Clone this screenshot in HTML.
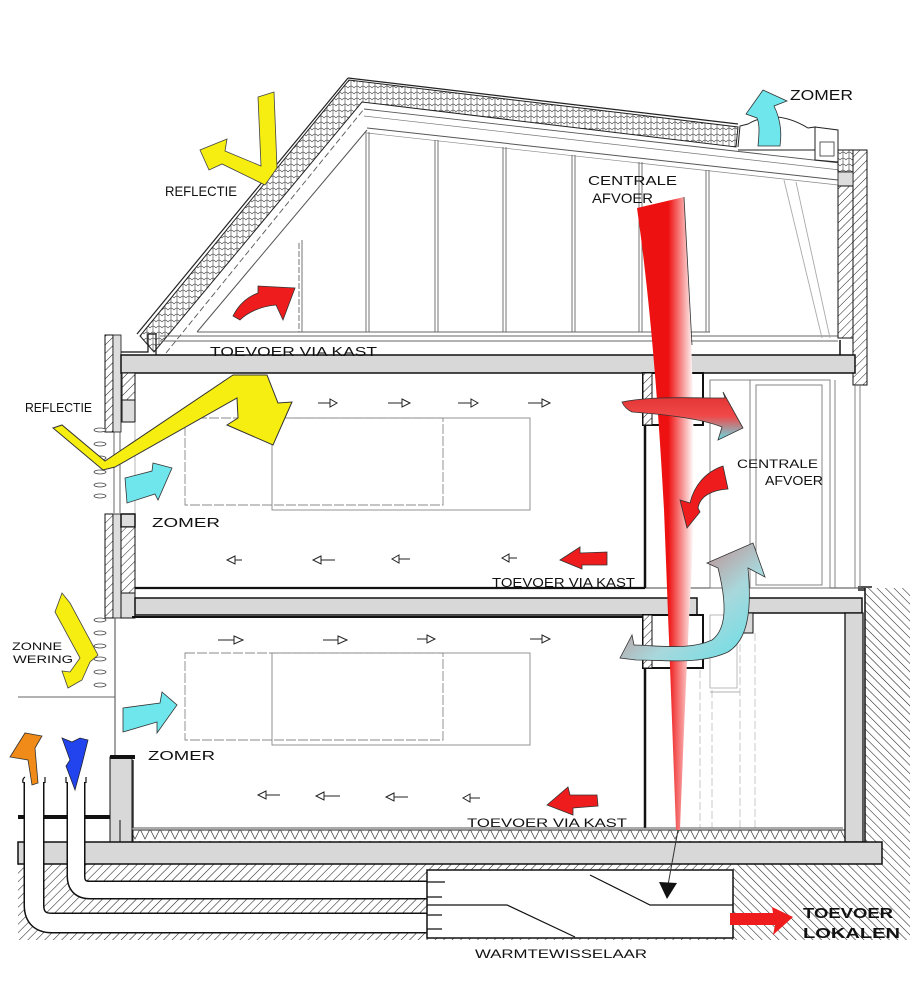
<!DOCTYPE html>
<html><head><meta charset="utf-8"><style>
html,body{margin:0;padding:0;background:#fff;}
svg{display:block;}
text{font-family:"Liberation Sans",sans-serif;fill:#111;}
</style></head><body>
<svg width="921" height="1000" viewBox="0 0 921 1000" xmlns="http://www.w3.org/2000/svg">
<defs>
<pattern id="h" width="6" height="6" patternUnits="userSpaceOnUse" patternTransform="rotate(45)"><rect width="6" height="6" fill="#fff"/><line x1="0" y1="0" x2="0" y2="6" stroke="#222" stroke-width="1"/></pattern>
<pattern id="soil" width="6" height="6" patternUnits="userSpaceOnUse" patternTransform="rotate(-45)"><rect width="6" height="6" fill="#fff"/><line x1="0" y1="0" x2="0" y2="6" stroke="#222" stroke-width="1.1"/></pattern>
<pattern id="soil2" width="6" height="6" patternUnits="userSpaceOnUse" patternTransform="rotate(45)"><rect width="6" height="6" fill="#fff"/><line x1="0" y1="0" x2="0" y2="6" stroke="#222" stroke-width="1.1"/></pattern>
<pattern id="tile" width="6" height="6" patternUnits="userSpaceOnUse"><rect width="6" height="6" fill="#fff"/><path d="M0,4 Q3,0 6,4 M3,0 L3,6" fill="none" stroke="#555" stroke-width="0.7"/></pattern>
<pattern id="zig" width="10" height="12" patternUnits="userSpaceOnUse"><rect width="10" height="12" fill="#fff"/><path d="M0,1 L5,11 L10,1" fill="none" stroke="#333" stroke-width="0.7"/></pattern>
<linearGradient id="beam" x1="0" y1="0" x2="1" y2="0"><stop offset="0" stop-color="#ee1111"/><stop offset="0.55" stop-color="#ee1111"/><stop offset="1" stop-color="#ffffff"/></linearGradient>
<linearGradient id="rc" x1="0" y1="0" x2="0" y2="1"><stop offset="0" stop-color="#e03030"/><stop offset="0.5" stop-color="#f04848"/><stop offset="1" stop-color="#66dde6"/></linearGradient>
<linearGradient id="rc2" x1="0" y1="0" x2="1" y2="1"><stop offset="0" stop-color="#d84848"/><stop offset="0.6" stop-color="#a8d8dc"/><stop offset="1" stop-color="#5ee0e8"/></linearGradient>
</defs>
<rect width="921" height="1000" fill="#fff"/>

<!-- ROOF -->
<polygon points="140,336 349,80 738,127 736,147 362,102 154,352" fill="url(#tile)" stroke="#222" stroke-width="1"/>
<line x1="137" y1="334" x2="348" y2="78" stroke="#222" stroke-width="1.2"/>
<line x1="348" y1="78" x2="738" y2="124" stroke="#222" stroke-width="1.2"/>
<line x1="166" y1="353" x2="364" y2="109" stroke="#555" stroke-width="0.9" stroke-dasharray="6,3"/>
<line x1="364" y1="109" x2="840" y2="163" stroke="#555" stroke-width="0.9"/>
<line x1="364" y1="116" x2="840" y2="170" stroke="#777" stroke-width="0.7"/>
<!-- skylight -->
<path d="M738,147 L740,126 L748,124 Q775,108 808,128 L815,127 L815,150 L738,150" fill="#fff" stroke="#222" stroke-width="1"/>
<path d="M815,127 L838,130 L838,162 L815,160 Z" fill="#fff" stroke="#222" stroke-width="1"/>
<rect x="820" y="142" width="14" height="14" fill="#fff" stroke="#333" stroke-width="0.8"/>
<!-- attic inner -->
<line x1="197" y1="332" x2="367" y2="130" stroke="#555" stroke-width="1"/>
<line x1="367" y1="128" x2="838" y2="180" stroke="#555" stroke-width="1"/>
<line x1="367" y1="133" x2="838" y2="185" stroke="#888" stroke-width="0.7"/>
<g stroke="#666" stroke-width="0.9">
<line x1="299" y1="243" x2="299" y2="332" stroke-dasharray="6,2"/><line x1="302" y1="240" x2="302" y2="332"/>
<line x1="366" y1="132" x2="366" y2="332"/><line x1="369" y1="132" x2="369" y2="332"/>
<line x1="435" y1="140" x2="435" y2="332"/><line x1="438" y1="140" x2="438" y2="332"/>
<line x1="503" y1="147" x2="503" y2="332"/><line x1="506" y1="147" x2="506" y2="332"/>
<line x1="572" y1="155" x2="572" y2="332"/><line x1="575" y1="155" x2="575" y2="332"/>
<line x1="639" y1="162" x2="639" y2="332"/><line x1="642" y1="162" x2="642" y2="332"/>
<line x1="706" y1="170" x2="706" y2="332"/><line x1="709" y1="170" x2="709" y2="332"/>
<line x1="197" y1="332" x2="710" y2="332"/>
<line x1="160" y1="336" x2="838" y2="336"/>
<line x1="160" y1="341" x2="838" y2="341"/>
<line x1="784" y1="180" x2="822" y2="338" stroke="#aaa"/>
<line x1="796" y1="182" x2="830" y2="338" stroke="#aaa"/>
</g>
<!-- left eave -->
<rect x="105" y="335" width="8" height="97" fill="url(#h)" stroke="#111" stroke-width="1"/>
<rect x="113" y="335" width="8" height="97" fill="#ddd" stroke="#111" stroke-width="0.8"/>
<path d="M121,352 L148,352 L148,334 L156,334 L156,355" fill="none" stroke="#111" stroke-width="1.2"/>
<!-- right parapet & wall -->
<rect x="853" y="150" width="14" height="235" fill="url(#h)" stroke="#111" stroke-width="1"/>
<rect x="838" y="150" width="15" height="22" fill="url(#tile)" stroke="#111" stroke-width="1"/>
<rect x="838" y="172" width="15" height="14" fill="#ddd" stroke="#111" stroke-width="0.8"/>
<rect x="838" y="186" width="15" height="152" fill="url(#h)" stroke="#111" stroke-width="1"/>
<line x1="840" y1="340" x2="840" y2="357" stroke="#111" stroke-width="1.5"/>

<!-- ATTIC SLAB -->
<rect x="121" y="355" width="734" height="18" fill="#d8d8d8" stroke="#111" stroke-width="1.5"/>
<!-- left upper wall -->
<rect x="122" y="373" width="13" height="27" fill="url(#h)" stroke="#111" stroke-width="1"/>
<rect x="122" y="400" width="13" height="22" fill="#ddd" stroke="#111" stroke-width="1"/>
<line x1="114" y1="432" x2="114" y2="513" stroke="#444" stroke-width="0.8"/>
<line x1="120" y1="432" x2="120" y2="513" stroke="#444" stroke-width="0.8"/>
<line x1="135" y1="422" x2="135" y2="513" stroke="#999" stroke-width="0.7"/>
<rect x="105" y="514" width="8" height="104" fill="url(#h)" stroke="#111" stroke-width="1"/>
<rect x="113" y="514" width="8" height="104" fill="#ddd" stroke="#111" stroke-width="0.8"/>
<rect x="121" y="514" width="14" height="13" fill="#ddd" stroke="#111" stroke-width="1.5"/>
<rect x="121" y="527" width="14" height="66" fill="url(#h)" stroke="#111" stroke-width="1"/>
<rect x="121" y="593" width="14" height="25" fill="#ddd" stroke="#111" stroke-width="1"/>
<!-- louvres -->
<g fill="#fff" stroke="#444" stroke-width="0.8">
<ellipse cx="100" cy="430" rx="6" ry="2"/><ellipse cx="100" cy="444" rx="6" ry="2"/><ellipse cx="100" cy="458" rx="6" ry="2"/><ellipse cx="100" cy="472" rx="6" ry="2"/><ellipse cx="100" cy="485" rx="6" ry="2"/><ellipse cx="100" cy="496" rx="6" ry="2"/>
<ellipse cx="100" cy="620" rx="6" ry="2"/><ellipse cx="100" cy="633" rx="6" ry="2"/><ellipse cx="100" cy="646" rx="6" ry="2"/><ellipse cx="100" cy="659" rx="6" ry="2"/><ellipse cx="100" cy="672" rx="6" ry="2"/><ellipse cx="100" cy="685" rx="6" ry="2"/>
</g>

<!-- FIRST FLOOR SLAB -->
<line x1="135" y1="588" x2="645" y2="588" stroke="#111" stroke-width="2.2"/>
<line x1="645" y1="588" x2="862" y2="588" stroke="#444" stroke-width="1"/>
<rect x="135" y="598" width="562" height="17" fill="#d8d8d8" stroke="#111" stroke-width="1.5"/>
<rect x="688" y="615" width="9" height="18" fill="#d8d8d8" stroke="#111" stroke-width="1"/>
<rect x="740" y="598" width="122" height="15" fill="#d8d8d8" stroke="#111" stroke-width="1.5"/>
<rect x="740" y="613" width="13" height="20" fill="#d8d8d8" stroke="#111" stroke-width="1"/>
<rect x="858" y="586" width="14" height="5" fill="#555"/>
<line x1="132" y1="617" x2="645" y2="617" stroke="#111" stroke-width="2"/>

<!-- upper right windows -->
<g stroke="#777" stroke-width="0.9" fill="none">
<rect x="710" y="380" width="120" height="208"/>
<line x1="750" y1="380" x2="750" y2="588"/>
<rect x="756" y="385" width="66" height="200"/>
<line x1="855" y1="385" x2="855" y2="588"/>
<line x1="860" y1="385" x2="860" y2="588"/>
<line x1="835" y1="380" x2="835" y2="588"/>
</g>

<!-- SHAFT -->
<rect x="643" y="373" width="60" height="52" fill="#fff" stroke="#111" stroke-width="2"/>
<rect x="643" y="373" width="9" height="52" fill="url(#h)" stroke="#111" stroke-width="1"/>
<line x1="645" y1="425" x2="645" y2="588" stroke="#111" stroke-width="2.5"/>
<rect x="643" y="615" width="60" height="53" fill="#fff" stroke="#111" stroke-width="2"/>
<rect x="643" y="615" width="9" height="53" fill="url(#h)" stroke="#111" stroke-width="1"/>
<line x1="645" y1="668" x2="645" y2="828" stroke="#111" stroke-width="2.5"/>
<g stroke="#bbb" stroke-width="0.8" stroke-dasharray="8,3">
<line x1="700" y1="670" x2="700" y2="828"/><line x1="712" y1="690" x2="712" y2="828"/><line x1="740" y1="633" x2="740" y2="828"/><line x1="755" y1="633" x2="755" y2="828"/>
</g>
<rect x="710" y="615" width="27" height="73" fill="none" stroke="#aaa" stroke-width="0.8"/>
<line x1="710" y1="692" x2="740" y2="692" stroke="#999" stroke-width="0.8"/>

<!-- GROUND FLOOR -->
<line x1="115" y1="618" x2="115" y2="757" stroke="#444" stroke-width="1"/>
<line x1="18" y1="697" x2="115" y2="697" stroke="#666" stroke-width="1"/>
<rect x="110" y="757" width="22" height="85" fill="#d8d8d8" stroke="#111" stroke-width="1"/>
<rect x="110" y="755" width="25" height="4" fill="#111"/>
<line x1="133" y1="760" x2="133" y2="828" stroke="#333" stroke-width="1.5"/>
<line x1="120" y1="820" x2="120" y2="852" stroke="#111" stroke-width="1"/>
<rect x="133" y="830" width="712" height="12" fill="url(#zig)" stroke="#222" stroke-width="1"/>
<line x1="133" y1="828" x2="843" y2="828" stroke="#555" stroke-width="1"/>
<!-- right basement wall -->
<rect x="845" y="613" width="18" height="229" fill="#d8d8d8" stroke="#111" stroke-width="1.3"/>
<!-- soil -->
<rect x="865" y="588" width="45" height="352" fill="url(#soil)"/>
<line x1="865" y1="588" x2="865" y2="842" stroke="#111" stroke-width="1.5"/>
<rect x="18" y="864" width="892" height="76" fill="url(#soil2)"/>
<rect x="733" y="864" width="177" height="76" fill="url(#soil)"/>
<!-- ground slab -->
<rect x="18" y="842" width="864" height="22" fill="#d8d8d8" stroke="#111" stroke-width="1.5"/>
<line x1="18" y1="817" x2="110" y2="817" stroke="#111" stroke-width="4"/>

<!-- PIPES -->
<path d="M34,780 L34,905 Q34,923 52,923 L430,923" fill="none" stroke="#111" stroke-width="21"/>
<path d="M34,780 L34,905 Q34,923 52,923 L430,923" fill="none" stroke="#fff" stroke-width="18"/>
<path d="M76,780 L76,876 Q76,890 90,890 L430,890" fill="none" stroke="#111" stroke-width="19"/>
<path d="M76,780 L76,876 Q76,890 90,890 L430,890" fill="none" stroke="#fff" stroke-width="16"/>
<rect x="20" y="770" width="75" height="12" fill="#fff"/>
<path d="M23,783 Q22,779 25,777 M45,783 L45,777 M66,783 L66,777 M86,783 L86,777" stroke="#111" stroke-width="1.2" fill="none"/>

<!-- HEAT EXCHANGER -->
<rect x="427" y="870" width="306" height="68" fill="#fff" stroke="#111" stroke-width="1.5"/>
<g stroke="#111" stroke-width="1.2" fill="none">
<path d="M427,882 L445,882 M427,897 L442,897 M427,915 L442,915 M427,929 L442,929"/>
<path d="M590,875 L650,905 L733,905"/>
<path d="M427,905 L507,905 L575,937"/>
</g>
<line x1="678" y1="830" x2="668" y2="885" stroke="#333" stroke-width="1"/>
<polygon points="659,882 677,883 667,899" fill="#111"/>

<!-- furniture rects -->
<g fill="none" stroke="#888" stroke-width="0.9">
<rect x="185" y="418" width="258" height="87" stroke-dasharray="10,2"/>
<rect x="272" y="418" width="258" height="92"/>
<rect x="185" y="653" width="258" height="87" stroke-dasharray="10,2"/>
<rect x="272" y="653" width="258" height="92"/>
</g>

<!-- small flow arrows -->
<g stroke="#222" stroke-width="1" fill="#fff">
<path d="M318,403 h12 M330,399 l7,4 l-7,4 z"/>
<path d="M388,403 h14 M402,399 l8,4 l-8,4 z"/>
<path d="M458,403 h13 M471,399 l7,4 l-7,4 z"/>
<path d="M528,403 h14 M542,399 l8,4 l-8,4 z"/>
<path d="M242,560 h-7 M235,556 l-8,4 l8,4 z"/>
<path d="M335,560 h-14 M321,556 l-8,4 l8,4 z"/>
<path d="M410,559 h-11 M399,555 l-7,4 l7,4 z"/>
<path d="M517,558 h-8 M509,554 l-7,4 l7,4 z"/>
<path d="M218,640 h16 M234,636 l9,4 l-9,4 z"/>
<path d="M323,640 h15 M338,636 l9,4 l-9,4 z"/>
<path d="M417,639 h10 M427,635 l8,4 l-8,4 z"/>
<path d="M530,639 h12 M542,635 l8,4 l-8,4 z"/>
<path d="M280,795 h-14 M266,791 l-8,4 l8,4 z"/>
<path d="M340,796 h-16 M324,792 l-8,4 l8,4 z"/>
<path d="M408,797 h-14 M394,793 l-8,4 l8,4 z"/>
<path d="M480,798 h-10 M470,794 l-7,4 l7,4 z"/>
</g>

<!-- CENTRAL RED BEAM -->
<path d="M637,208 L684,197 C692,330 698,480 690,600 C685,700 682,780 680,830 L676,830 C672,720 668,610 664,510 C658,400 650,300 637,208 Z" fill="url(#beam)"/>
<line x1="684" y1="197" x2="692" y2="345" stroke="#333" stroke-width="0.8"/>

<!-- curved gradient arrows near shaft -->
<path d="M622,402 C650,396 690,398 725,398 L723,392 L743,428 L718,440 L722,427 C700,418 660,414 632,412 C628,410 624,407 622,402 Z" fill="url(#rc)" stroke="#333" stroke-width="0.8"/>
<path d="M723,466 L728,489 C712,490 700,496 698,508 L700,512 L687,528 L680,500 L690,503 C694,486 705,472 723,466 Z" fill="#ee1c1c" stroke="#333" stroke-width="0.8"/>
<path d="M620,658 L632,635 L634,645 C665,646 690,650 712,640 C728,628 726,600 718,568 L707,563 L753,543 L765,577 L748,568 C752,610 748,640 728,652 C700,665 665,660 636,660 L620,658 Z" fill="url(#rc2)" stroke="#333" stroke-width="0.8"/>

<!-- YELLOW ARROWS -->
<polygon points="258,97 274,92 277,168 265,185 222,164 209,170 200,150 227,139 225,151 261,166" fill="#f5ee10" stroke="#444" stroke-width="0.8"/>
<polygon points="53,428 62,425 105,461 233,375 267,375 278,403 292,402 273,445 227,425 238,418 237,398 115,467 103,470" fill="#f5ee10" stroke="#333" stroke-width="1"/>
<polygon points="62,593 70,603 98,655 90,662 82,680 68,688 62,671 70,672 80,658 55,612" fill="#f5ee10" stroke="#444" stroke-width="0.8"/>

<!-- CYAN ARROWS -->
<polygon points="125,478 152,471 153,463 172,468 158,500 155,494 127,503" fill="#6ee6ec" stroke="#333" stroke-width="0.8"/>
<polygon points="123,708 160,703 162,692 177,705 157,733 157,722 123,732" fill="#6ee6ec" stroke="#333" stroke-width="0.8"/>
<path d="M758,146 C759,135 760,125 757,118 L746,114 L763,90 L787,101 L774,106 C780,118 782,132 780,146 Z" fill="#6ee6ec" stroke="#333" stroke-width="0.8"/>

<!-- RED ARROWS -->
<path d="M233,316 C240,302 250,296 258,293 L258,286 L295,288 L283,320 L276,305 C262,306 248,312 240,320 Z" fill="#ee1c1c" stroke="#333" stroke-width="0.8"/>
<polygon points="560,560 580,547 580,553 607,552 607,565 582,565 582,569" fill="#ee1c1c" stroke="#333" stroke-width="0.8"/>
<polygon points="547,805 568,787 570,795 597,795 598,806 573,808 573,815" fill="#ee1c1c" stroke="#333" stroke-width="0.8"/>
<polygon points="730,913 773,913 772,907 793,917 773,935 775,925 730,925" fill="#ee1c1c"/>

<!-- ORANGE & BLUE -->
<polygon points="10,757 25,733 42,736 35,748 38,783 32,785 28,760" fill="#f08a18" stroke="#333" stroke-width="0.8"/>
<polygon points="62,738 72,742 80,738 88,740 82,764 75,790 66,766 70,760" fill="#2244ee" stroke="#223" stroke-width="0.8"/>

<!-- LABELS -->
<text x="790" y="100" font-size="15" textLength="63" lengthAdjust="spacingAndGlyphs">ZOMER</text>
<text x="165" y="196" font-size="14" textLength="72" lengthAdjust="spacingAndGlyphs">REFLECTIE</text>
<text x="588" y="185" font-size="13" textLength="89" lengthAdjust="spacingAndGlyphs">CENTRALE</text>
<text x="592" y="203" font-size="14" textLength="61" lengthAdjust="spacingAndGlyphs">AFVOER</text>
<text x="210" y="356" font-size="13" textLength="167" lengthAdjust="spacingAndGlyphs">TOEVOER VIA KAST</text>
<text x="25" y="412" font-size="13" textLength="67" lengthAdjust="spacingAndGlyphs">REFLECTIE</text>
<text x="152" y="527" font-size="13" textLength="68" lengthAdjust="spacingAndGlyphs">ZOMER</text>
<text x="492" y="587" font-size="13" textLength="143" lengthAdjust="spacingAndGlyphs">TOEVOER VIA KAST</text>
<text x="737" y="468" font-size="12" textLength="81" lengthAdjust="spacingAndGlyphs">CENTRALE</text>
<text x="765" y="485" font-size="13" textLength="58" lengthAdjust="spacingAndGlyphs">AFVOER</text>
<text x="12" y="650" font-size="11" textLength="50" lengthAdjust="spacingAndGlyphs">ZONNE</text>
<text x="13" y="663" font-size="11" textLength="60" lengthAdjust="spacingAndGlyphs">WERING</text>
<text x="148" y="760" font-size="13" textLength="67" lengthAdjust="spacingAndGlyphs">ZOMER</text>
<text x="467" y="827" font-size="12" textLength="160" lengthAdjust="spacingAndGlyphs">TOEVOER VIA KAST</text>
<text x="803" y="918" font-size="15" font-weight="bold" textLength="90" lengthAdjust="spacingAndGlyphs">TOEVOER</text>
<text x="803" y="938" font-size="15" font-weight="bold" textLength="97" lengthAdjust="spacingAndGlyphs">LOKALEN</text>
<text x="475" y="958" font-size="12" textLength="172" lengthAdjust="spacingAndGlyphs">WARMTEWISSELAAR</text>
</svg>
</body></html>
